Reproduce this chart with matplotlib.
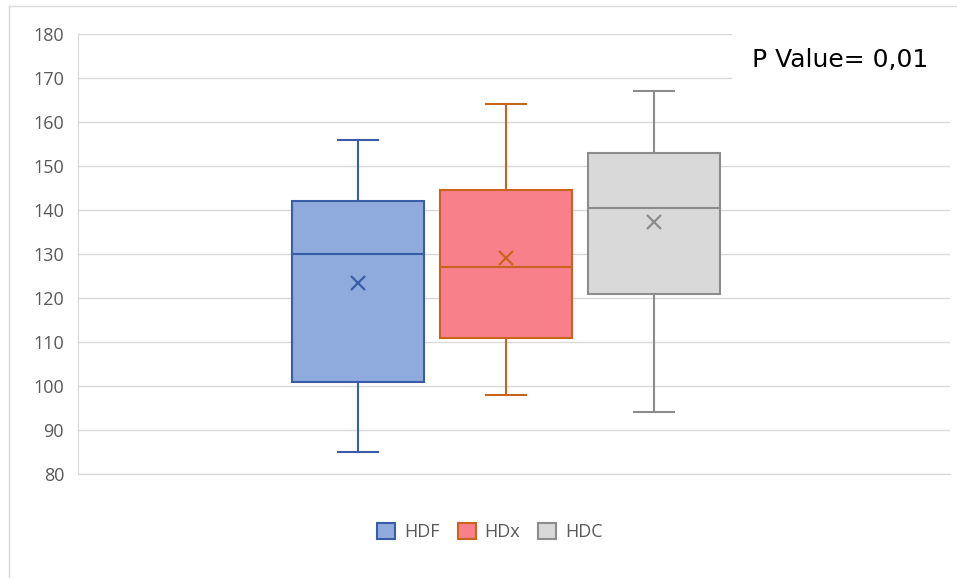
import matplotlib.pyplot as plt
from matplotlib.lines import Line2D
from matplotlib.patches import Patch, Rectangle

# box plot summary
groups = ["HDF", "HDx", "HDC"]
whislo = [85, 98, 94]
q1 = [101, 111, 121]
med = [130, 127, 140.5]
q3 = [142, 144.5, 153]
whishi = [156, 164, 167]
means = [123.5, 129, 137.3]

fills = ["#8FAADC", "#F8808A", "#D9D9D9"]
edges = ["#3A5DA8", "#C9641E", "#8C8C8C"]

plt.rcParams["font.family"] = ["Open Sans", "DejaVu Sans"]

fig = plt.figure(figsize=(9.57, 5.78), dpi=100)
ax = fig.add_axes([0.0815, 0.18, 0.911, 0.7612])

stats = []
for i, g in enumerate(groups):
    stats.append(dict(label=g, whislo=whislo[i], q1=q1[i], med=med[i],
                      q3=q3[i], whishi=whishi[i], mean=means[i], fliers=[]))

positions = [0.321, 0.491, 0.661]
for i, s in enumerate(stats):
    ax.bxp([s], positions=[positions[i]], widths=0.151, capwidths=0.046,
           showmeans=True, patch_artist=True, manage_ticks=False,
           boxprops=dict(facecolor=fills[i], edgecolor=edges[i], linewidth=1.5),
           medianprops=dict(color=edges[i], linewidth=1.5),
           whiskerprops=dict(color=edges[i], linewidth=1.5),
           capprops=dict(color=edges[i], linewidth=1.5),
           meanprops=dict(marker="x", markeredgecolor=edges[i],
                          markersize=10, markeredgewidth=1.6))

ax.set_xlim(0, 1)
ax.set_ylim(80, 180)
ax.set_yticks(range(80, 181, 10))
ax.set_xticks([])
ax.tick_params(axis="y", length=0, labelsize=13, labelcolor="#595959", pad=10)
ax.grid(axis="y", color="#D9D9D9", linewidth=1)
ax.set_axisbelow(True)
for side in ["top", "right"]:
    ax.spines[side].set_visible(False)
ax.spines["left"].set_color("#D9D9D9")
ax.spines["bottom"].set_color("#D9D9D9")

# white text box over the top-right gridlines
ax.add_patch(Rectangle((0.75, 164.5), 0.3, 17, facecolor="white", edgecolor="none",
                       zorder=3, clip_on=False))
ax.text(0.773, 174, "P Value= 0,01", fontsize=18, color="black",
        va="center", ha="left", family="DejaVu Sans", zorder=4)

handles = [Patch(facecolor=fills[i], edgecolor=edges[i], linewidth=1.5, label=g)
           for i, g in enumerate(groups)]
fig.legend(handles=handles, loc="center", bbox_to_anchor=(0.512, 0.08), ncol=3,
           frameon=False, fontsize=13, labelcolor="#595959", handlelength=1.0,
           handleheight=1.0, handletextpad=0.5, columnspacing=1.0)

# chart frame (only left and top edges fall inside the picture)
fig.add_artist(Line2D([0.009, 0.009], [0.0, 0.99], transform=fig.transFigure,
                      color="#D9D9D9", linewidth=1))
fig.add_artist(Line2D([0.009, 1.0], [0.99, 0.99], transform=fig.transFigure,
                      color="#D9D9D9", linewidth=1))

fig.savefig("out.png", dpi=100)
